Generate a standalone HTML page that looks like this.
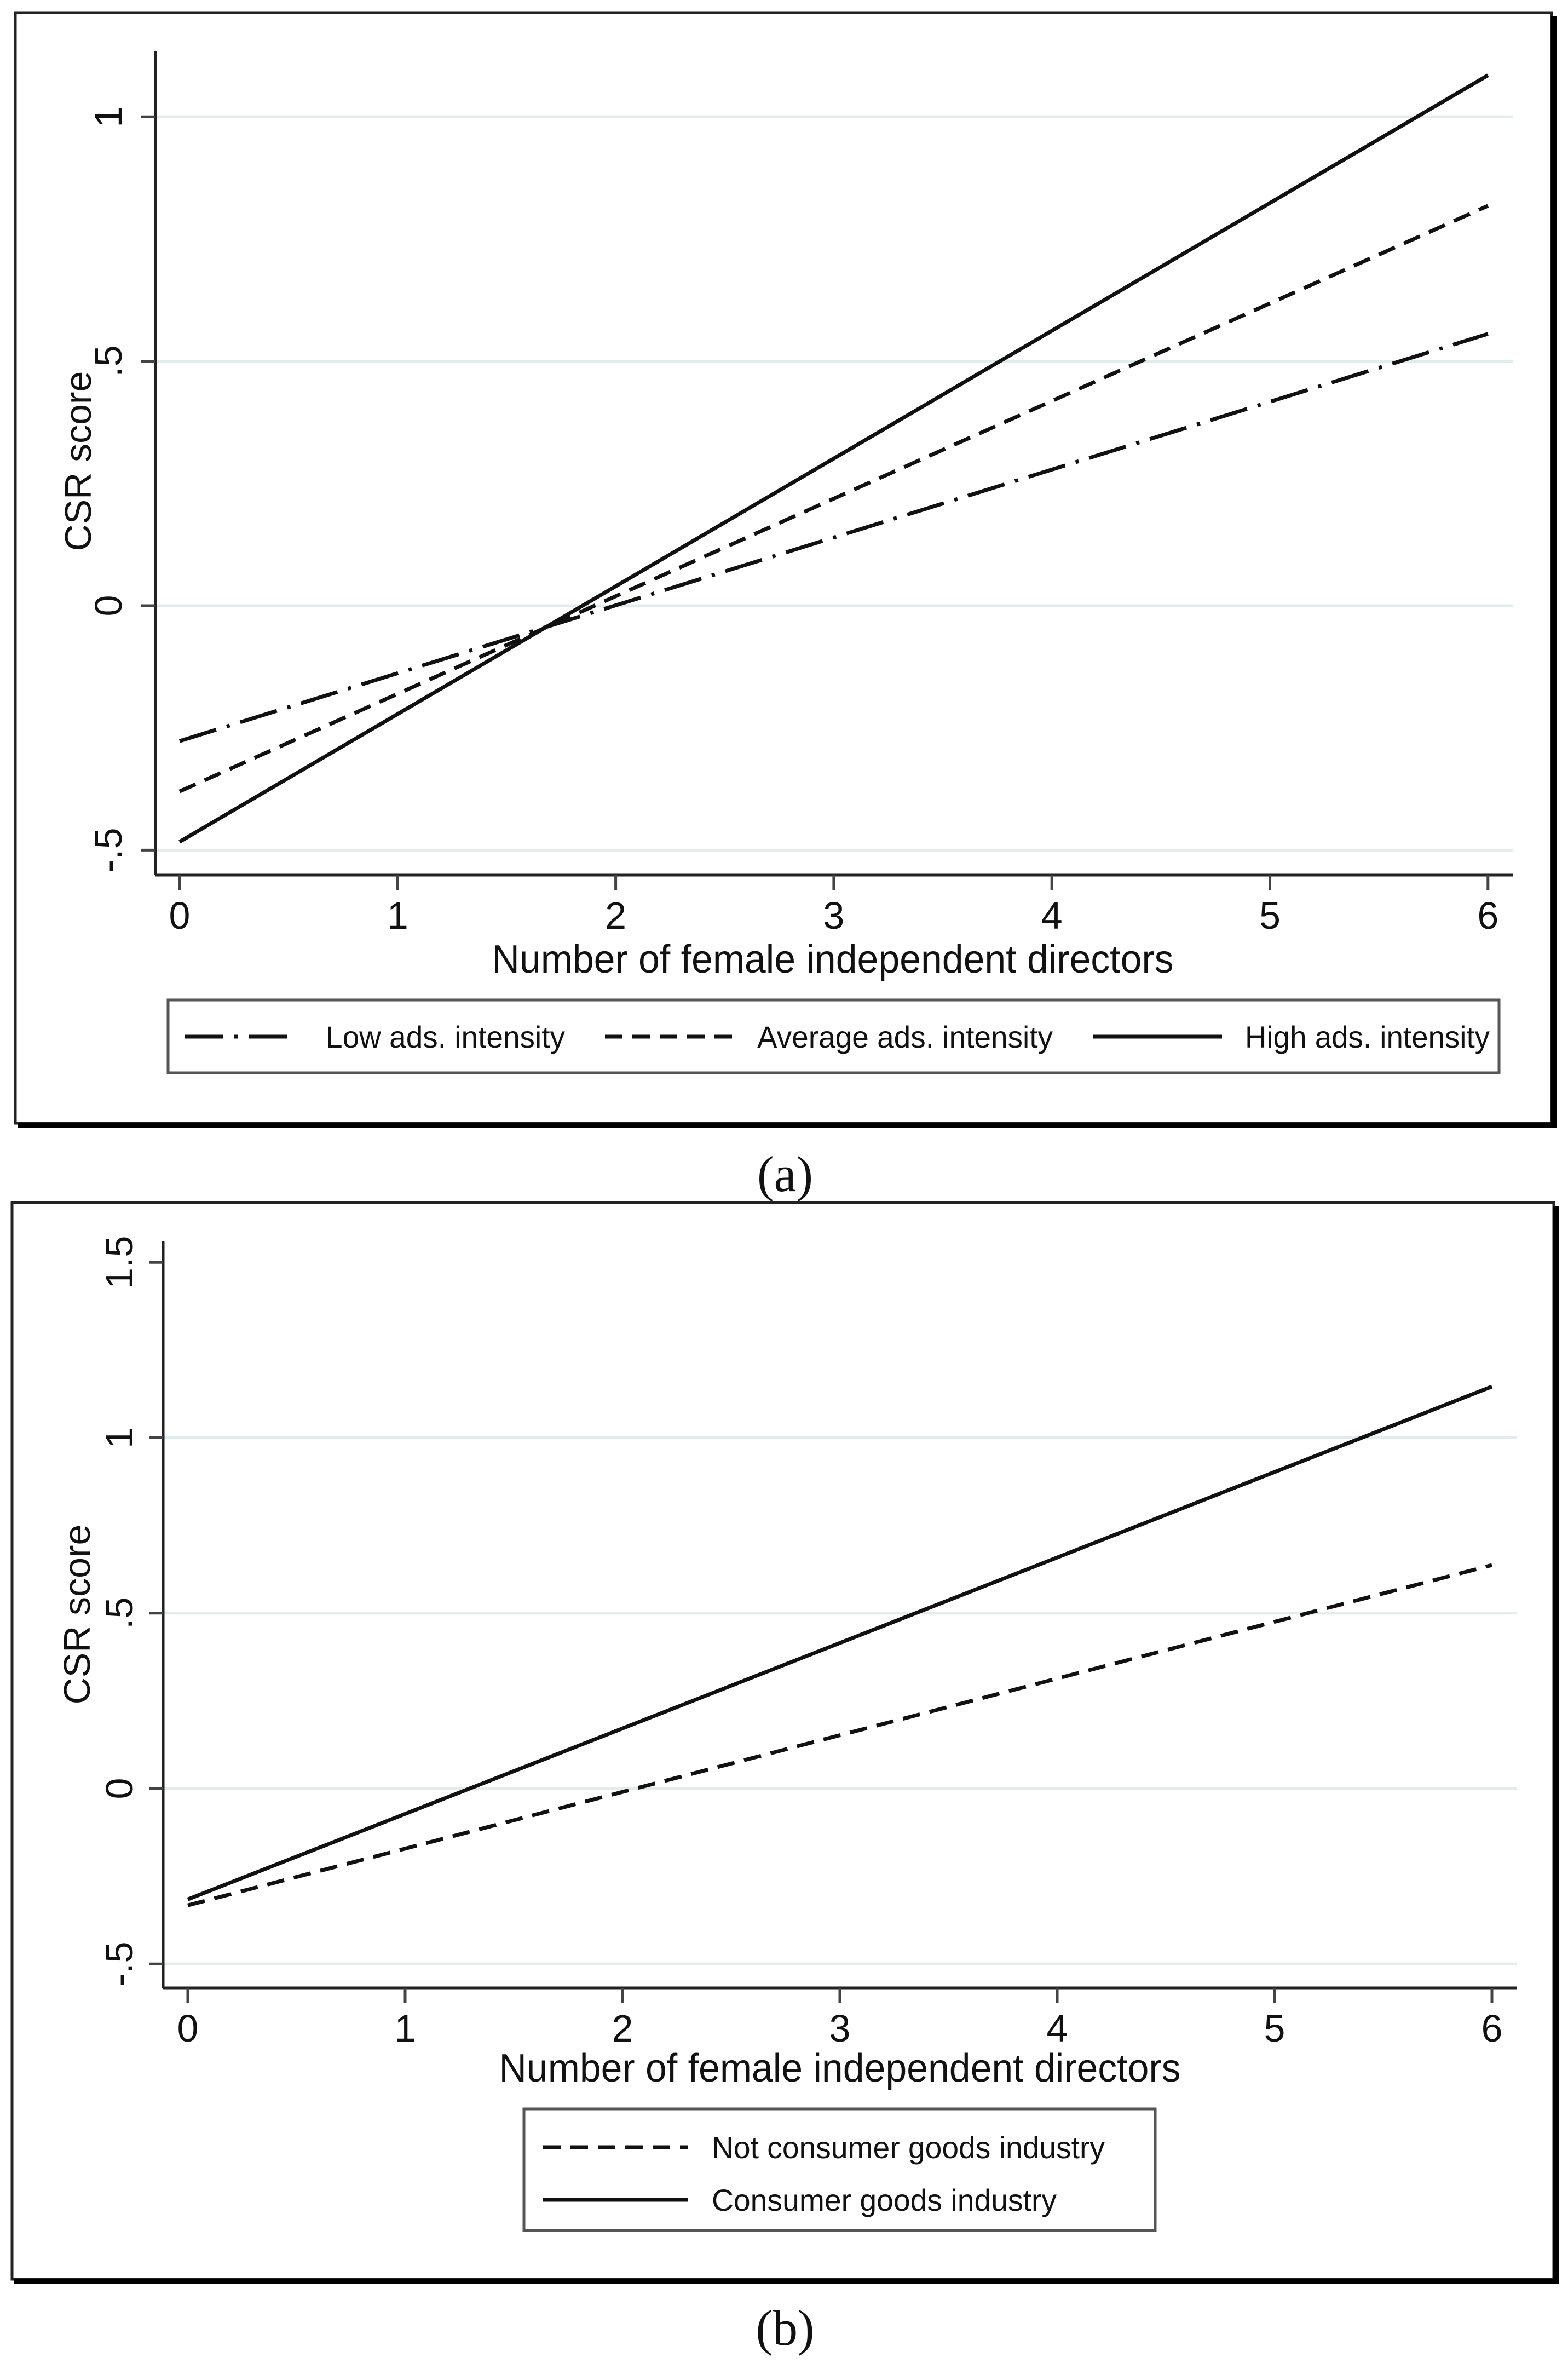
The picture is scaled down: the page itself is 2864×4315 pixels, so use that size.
<!DOCTYPE html>
<html><head><meta charset="utf-8"><style>
html,body{margin:0;padding:0;background:#fff;}
svg{display:block;font-family:"Liberation Sans",Arial,sans-serif;}
</style></head><body>
<svg id="chart" width="2864" height="4315" viewBox="0 0 2864 4315" xmlns="http://www.w3.org/2000/svg">
<g id="pa"></g>
<g id="pb"></g>
</svg>
<script>
const xTicks = [0,1,2,3,4,5,6];
const yTicksA = [-0.5,0,0.5,1];
const yTickLabelsA = ["-.5","0",".5","1"];
const yTicksB = [-0.5,0,0.5,1,1.5];
const yTickLabelsB = ["-.5","0",".5","1","1.5"];
const seriesAx = [0,6];
const lowAds = [-0.277,0.556];
const avgAds = [-0.38,0.818];
const highAds = [-0.483,1.085];
const seriesBx = [0,6];
const notConsumer = [-0.333,0.637];
const consumer = [-0.316,1.146];

const NS="http://www.w3.org/2000/svg";
function mk(parent,tag,attrs,text){const e=document.createElementNS(NS,tag);for(const k in attrs)e.setAttribute(k,attrs[k]);if(text!==undefined)e.textContent=text;parent.appendChild(e);return e;}
const DASH="32 18", DASHDOT="70 20 6 20";

function panel(g,cfg){
  const sx=v=>cfg.x0+(v-0)*cfg.xu;
  const sy=v=>cfg.y0-v*cfg.yu;
  let e;
  e=mk(g,'rect',{x:cfg.fx,y:cfg.fy,width:cfg.fw,height:cfg.fh,fill:'#fff',stroke:'#222','stroke-width':5});
  
  e=mk(g,'line',{x1:cfg.fx+cfg.fw+4,y1:cfg.fy+6,x2:cfg.fx+cfg.fw+4,y2:cfg.fy+cfg.fh+6,stroke:'#000','stroke-width':10});
  
  e=mk(g,'line',{x1:cfg.fx+4,y1:cfg.fy+cfg.fh+4,x2:cfg.fx+cfg.fw+9,y2:cfg.fy+cfg.fh+4,stroke:'#000','stroke-width':10});
  
  cfg.grid.forEach(v=>{
    e=mk(g,'line',{x1:cfg.ax,x2:cfg.axEnd,y1:sy(v),y2:sy(v),stroke:'#e3ecec','stroke-width':5});
    
  });
  e=mk(g,'line',{x1:cfg.ax,x2:cfg.ax,y1:cfg.ayTop,y2:cfg.axY,stroke:'#222','stroke-width':5});
  
  e=mk(g,'line',{x1:cfg.ax,x2:cfg.axEnd,y1:cfg.axY,y2:cfg.axY,stroke:'#222','stroke-width':5});
  
  cfg.yt.forEach((v,i)=>{
    e=mk(g,'line',{x1:cfg.ax-26,x2:cfg.ax,y1:sy(v),y2:sy(v),stroke:'#444','stroke-width':5});
    
    e=mk(g,'text',{x:0,y:0,transform:`translate(${cfg.ytx},${sy(v)}) rotate(-90)`,'text-anchor':'middle','font-size':70,fill:'#111'},cfg.ytl[i]);
    
  });
  xTicks.forEach(v=>{
    e=mk(g,'line',{x1:sx(v),x2:sx(v),y1:cfg.axY,y2:cfg.axY+28,stroke:'#444','stroke-width':5});
    
    e=mk(g,'text',{x:sx(v),y:cfg.axY+98,'text-anchor':'middle','font-size':70,fill:'#111'},String(v));
    
  });
  e=mk(g,'text',{x:cfg.xtx,y:cfg.xty,'text-anchor':'middle','font-size':72,fill:'#111',textLength:1245,lengthAdjust:'spacingAndGlyphs'},'Number of female independent directors');
  
  e=mk(g,'text',{x:0,y:0,transform:`translate(${cfg.ytitx},${cfg.ytity}) rotate(-90)`,'text-anchor':'middle','font-size':68,fill:'#111'},'CSR score');
  
  cfg.series.forEach(s=>{
    const pts=s.xs.map((x,i)=>sx(x)+','+sy(s.ys[i])).join(' ');
    e=mk(g,'polyline',{points:pts,fill:'none',stroke:'#111','stroke-width':7,'stroke-dasharray':s.dash||'none'});
    
  });
  const L=cfg.legend;
  e=mk(g,'rect',{x:L.x,y:L.y,width:L.w,height:L.h,fill:'#fff',stroke:'#555','stroke-width':5});
  
  L.items.forEach(it=>{
    e=mk(g,'line',{x1:it.lx1,x2:it.lx2,y1:it.y,y2:it.y,stroke:'#111','stroke-width':7,'stroke-dasharray':it.dash||'none'});
    
    e=mk(g,'text',{x:it.tx,y:it.y+20,'font-size':56,fill:'#111',textLength:it.tw,lengthAdjust:'spacingAndGlyphs'},it.label);
    
  });
  e=mk(g,'text',{x:1434,y:cfg.caty,'text-anchor':'middle','font-size':92,fill:'#111','font-family':'"Liberation Serif",serif'},cfg.cap);
  
}

panel(document.getElementById('pa'),{
  fx:28,fy:23,fw:2806,fh:2028,
  x0:328,xu:398.3,y0:1106,yu:892.7,
  ax:284,axEnd:2763,ayTop:94,axY:1598,
  grid:yTicksA,yt:yTicksA,ytl:yTickLabelsA,ytx:222,
  xtx:1521,xty:1776,ytitx:166,ytity:842,
  series:[
    {name:'line-low-ads',xs:seriesAx,ys:lowAds,dash:DASHDOT},
    {name:'line-average-ads',xs:seriesAx,ys:avgAds,dash:DASH},
    {name:'line-high-ads',xs:seriesAx,ys:highAds}
  ],
  legend:{x:307,y:1826,w:2431,h:133,items:[
    {lx1:338,lx2:544,y:1893,dash:DASHDOT,tx:595,tw:437,label:'Low ads. intensity'},
    {lx1:1105,lx2:1342,y:1893,dash:DASH,tx:1383,tw:540,label:'Average ads. intensity'},
    {lx1:1996,lx2:2232,y:1893,tx:2274,tw:447,label:'High ads. intensity'}
  ]},
  cap:'(a)',caty:2175
});
panel(document.getElementById('pb'),{
  fx:22,fy:2196,fw:2816,fh:1966,
  x0:343,xu:397,y0:3266,yu:640.5,
  ax:298,axEnd:2771,ayTop:2267,axY:3630,
  grid:[-0.5,0,0.5,1],yt:yTicksB,ytl:yTickLabelsB,ytx:242,
  xtx:1534,xty:3801,ytitx:164,ytity:2948,
  series:[
    {name:'line-not-consumer',xs:seriesBx,ys:notConsumer,dash:DASH},
    {name:'line-consumer',xs:seriesBx,ys:consumer}
  ],
  legend:{x:957,y:3851,w:1153,h:222,items:[
    {lx1:992,lx2:1257,y:3921,dash:DASH,tx:1300,tw:718,label:'Not consumer goods industry'},
    {lx1:992,lx2:1257,y:4017,tx:1300,tw:630,label:'Consumer goods industry'}
  ]},
  cap:'(b)',caty:4282
});
</script>
</body></html>
